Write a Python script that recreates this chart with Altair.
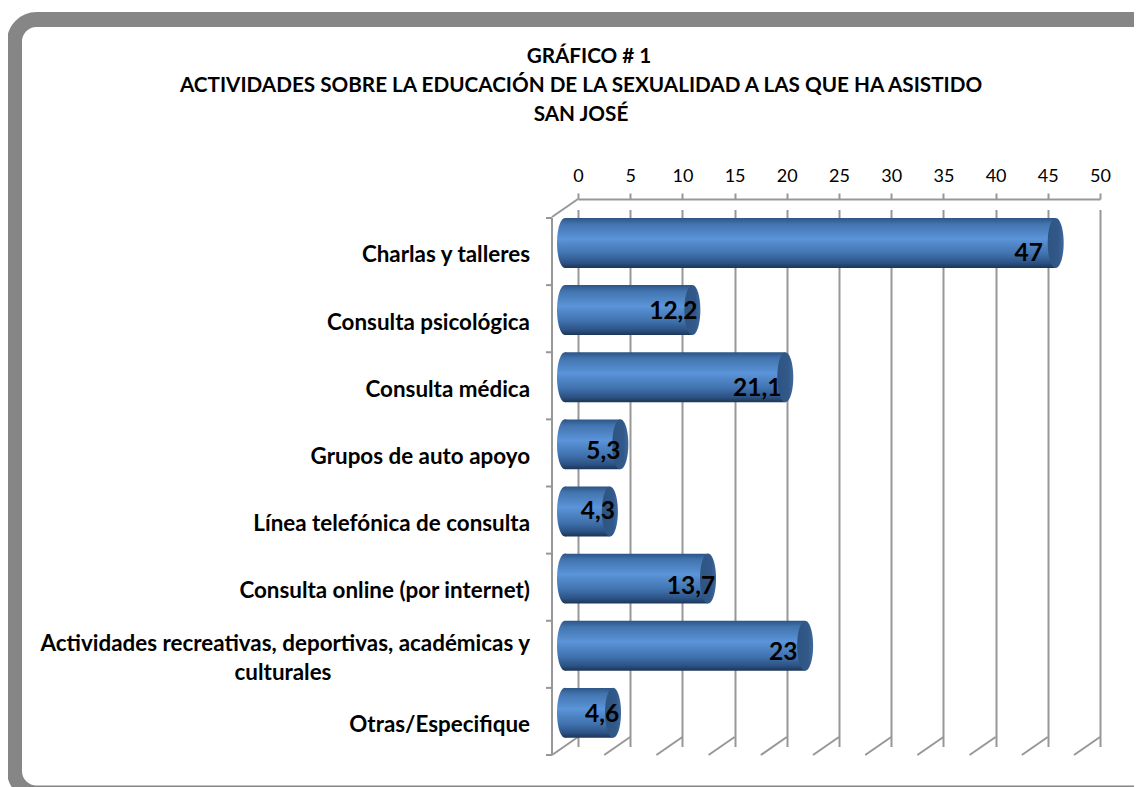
import altair as alt
import pandas as pd

title_lines = ["GRÁFICO # 1",
               "ACTIVIDADES SOBRE LA EDUCACIÓN DE LA SEXUALIDAD A LAS QUE HA ASISTIDO",
               "SAN JOSÉ"]
categories = ["Charlas y talleres", "Consulta psicológica", "Consulta médica",
              "Grupos de auto apoyo", "Línea telefónica de consulta",
              "Consulta online (por internet)",
              "Actividades recreativas, deportivas, académicas y culturales",
              "Otras/Especifique"]
values = [47, 12.2, 21.1, 5.3, 4.3, 13.7, 23, 4.6]
value_labels = ["47", "12,2", "21,1", "5,3", "4,3", "13,7", "23", "4,6"]
wrapped_first = "Actividades recreativas, deportivas, académicas y"
wrapped_second = "culturales"
ticks = [0, 5, 10, 15, 20, 25, 30, 35, 40, 45, 50]

# layout (pixels)
label_nudge = [(-40, 11), (-32, 2), (-41, 12), (-30, 8), (-25, 1), (-30, 8), (-35, 7), (-24, 2)]
title_pos = [(11, -142), (3, -113), (3, -84)]
DEPTH_X, DEPTH_Y = -26, 18
BAR_SHIFT = -13
FONT = "Lato"
GRID = "#979797"
CAT_SIZE = 22.4

df = pd.DataFrame({"cat": categories, "val": values, "lab": value_labels,
                   "zero": [0] * len(values),
                   "text": [c if c != categories[6] else "" for c in categories]})
grid_df = pd.DataFrame({"t": ticks})

x_scale = alt.Scale(domain=[0, 50], nice=False, zero=True)
x_axis = alt.Axis(orient="top", values=ticks, title=None, grid=True, gridColor=GRID, gridWidth=2,
                  domainColor=GRID, domainWidth=2, tickColor=GRID, tickWidth=2, tickSize=6,
                  labelFont=FONT, labelFontSize=18, labelColor="#000000", labelPadding=8,
                  labelFlush=False, labelAngle=0, format="d")
y_scale = alt.Scale(domain=categories, range=[10.4, 547.4], paddingInner=0.2565, paddingOuter=0.128)


def X(f):
    return alt.X(f, type="quantitative", scale=x_scale, axis=x_axis)


def Y(**kw):
    return alt.Y("cat:N", scale=y_scale, axis=None, **kw)


body_grad = alt.Gradient(gradient="linear", x1=0, x2=0, y1=0, y2=1, stops=[
    alt.GradientStop(offset=0, color="#2c5486"),
    alt.GradientStop(offset=0.12, color="#4274ae"),
    alt.GradientStop(offset=0.42, color="#5b94d9"),
    alt.GradientStop(offset=0.72, color="#4072ae"),
    alt.GradientStop(offset=0.9, color="#2c5284"),
    alt.GradientStop(offset=1, color="#1c3556")])
cap_grad = alt.Gradient(gradient="linear", x1=0, x2=1, y1=0, y2=0, stops=[
    alt.GradientStop(offset=0, color="#2e5482"),
    alt.GradientStop(offset=0.7, color="#33598a"),
    alt.GradientStop(offset=1, color="#3f6a9e")])
ELLIPSE = "M -0.32 0 A 0.32 1 0 1 1 0.32 0 A 0.32 1 0 1 1 -0.32 0 Z"

frame = alt.Chart(df.head(1)).mark_rect(filled=False, stroke="#868686", strokeWidth=15, cornerRadius=22).encode(
    x=alt.value(-563.5), x2=alt.value(610), y=alt.value(-179.5), y2=alt.value(594))

titles = [alt.Chart(pd.DataFrame({"t": [line]})).mark_text(
    font=FONT, fontWeight="bold", fontSize=20.7, color="#000000", align="center", baseline="middle",
).encode(x=alt.value(title_pos[i][0]), y=alt.value(title_pos[i][1]), text="t:N")
    for i, line in enumerate(title_lines)]

floor = alt.Chart(grid_df).mark_rule(color=GRID, strokeWidth=2, x2Offset=DEPTH_X).encode(
    x=X("t"), x2="t:Q", y=alt.value(538), y2=alt.value(538 + DEPTH_Y))
corner = alt.Chart(grid_df.head(1)).mark_rule(color=GRID, strokeWidth=2, x2Offset=DEPTH_X).encode(
    x=X("t"), x2="t:Q", y=alt.value(0), y2=alt.value(-DEPTH_X - 8))
side = alt.Chart(df.head(1)).mark_rule(color=GRID, strokeWidth=2).encode(
    x=alt.value(DEPTH_X), y=alt.value(19), y2=alt.value(538 + DEPTH_Y))
side_ticks = alt.Chart(df).mark_rule(color=GRID, strokeWidth=2).encode(
    x=alt.value(DEPTH_X - 6), x2=alt.value(DEPTH_X), y=Y(bandPosition=0))
side_end = alt.Chart(df.head(1)).mark_rule(color=GRID, strokeWidth=2).encode(
    x=alt.value(DEPTH_X - 6), x2=alt.value(DEPTH_X), y=alt.value(538 + DEPTH_Y))

left_cap = alt.Chart(df).mark_point(shape=ELLIPSE, filled=True, fill=body_grad, opacity=1, size=2500,
                                    xOffset=BAR_SHIFT).encode(x=X("zero"), y=Y())
body = alt.Chart(df).mark_bar(fill=body_grad, xOffset=BAR_SHIFT, x2Offset=BAR_SHIFT).encode(
    x=X("zero"), x2="val:Q", y=Y())
right_cap = alt.Chart(df).mark_point(shape=ELLIPSE, filled=True, fill=cap_grad, opacity=1, size=2500,
                                     xOffset=BAR_SHIFT).encode(x=X("val"), y=Y())

cat_text = alt.Chart(df).mark_text(font=FONT, fontWeight="bold", fontSize=CAT_SIZE, align="right", dy=12.5,
                                   color="#000000").encode(
    x=alt.value(-48), y=Y(), text="text:N")
wrap1 = alt.Chart(df.iloc[[6]].assign(text=wrapped_first)).mark_text(
    font=FONT, fontWeight="bold", fontSize=CAT_SIZE, align="right", dy=-2, color="#000000").encode(
    x=alt.value(-48), y=Y(), text="text:N")
wrap2 = alt.Chart(df.iloc[[6]].assign(text=wrapped_second)).mark_text(
    font=FONT, fontWeight="bold", fontSize=CAT_SIZE, align="center", dy=27, color="#000000").encode(
    x=alt.value(-295), y=Y(), text="text:N")

val_labels = [alt.Chart(df.iloc[[i]]).mark_text(font=FONT, fontWeight="bold", fontSize=24.5, color="#000000",
                                                dx=label_nudge[i][0], dy=label_nudge[i][1]).encode(
    x=X("val"), y=Y(), text="lab:N") for i in range(len(df))]

chart = alt.layer(frame, *titles, floor, corner, side, side_ticks, side_end, left_cap, body, right_cap,
                  cat_text, wrap1, wrap2, *val_labels).properties(
    width=522, height=538,
    padding={"left": 570, "top": 191, "right": 34, "bottom": 50},
    autosize=alt.AutoSizeParams(type="none"),
    background="#ffffff",
).configure_view(stroke=None)

chart.save("out.html", embed_options={"renderer": "svg", "actions": False})
